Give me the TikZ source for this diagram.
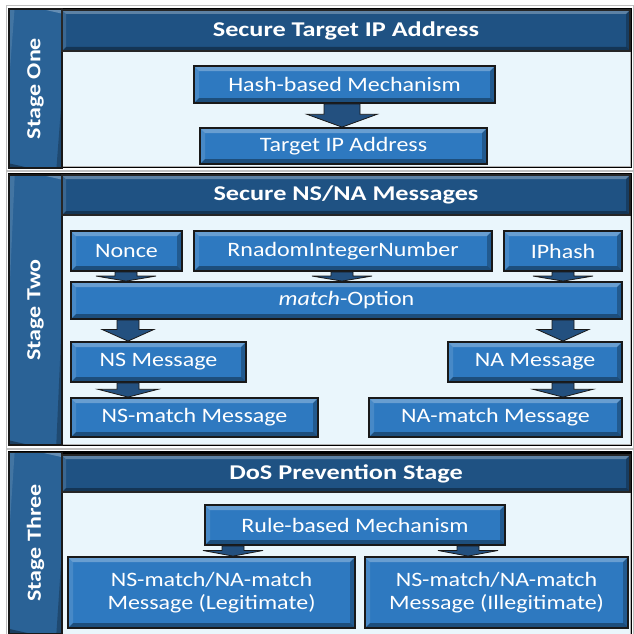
\documentclass[tikz,border=0pt]{standalone}
\usepackage{fontspec}
\setmainfont{Carlito}
\newfontfamily\boxfont{Carlito}[FakeStretch=1.17]
\newfontfamily\hdrfont{Carlito}[FakeStretch=1.25]
\newfontfamily\lblfont{Carlito}[FakeStretch=1.2]
\usetikzlibrary{calc}
\definecolor{boxc}{HTML}{2E79C0}
\definecolor{hdrc}{HTML}{1F5283}
\definecolor{lblc}{HTML}{2A6296}
\definecolor{contentc}{HTML}{EAF6FC}
\definecolor{arrowc}{HTML}{23507F}
\tikzset{
  bevel/.style={path picture={
    \fill[white,opacity=0.28] (path picture bounding box.north west) -- (path picture bounding box.north east)
      -- ++(-#1,-#1) -- ($(path picture bounding box.north west)+(#1,-#1)$) -- cycle;
    \fill[white,opacity=0.12] (path picture bounding box.north west) -- (path picture bounding box.south west)
      -- ++(#1,#1) -- ($(path picture bounding box.north west)+(#1,-#1)$) -- cycle;
    \fill[black,opacity=0.25] (path picture bounding box.north east) -- (path picture bounding box.south east)
      -- ++(-#1,#1) -- ($(path picture bounding box.north east)+(-#1,-#1)$) -- cycle;
    \fill[black,opacity=0.35] (path picture bounding box.south west) -- (path picture bounding box.south east)
      -- ++(-#1,#1) -- ($(path picture bounding box.south west)+(#1,#1)$) -- cycle;
  }},
  box/.style={draw=black!90, line width=1.8pt, fill=boxc, bevel=5pt,
    text=white, font=\boxfont\fontsize{20.5}{23}\selectfont, inner sep=0pt, align=center},
  header/.style={draw=black!85, line width=1.2pt, fill=hdrc, bevel=4pt,
    text=white, font=\hdrfont\bfseries\fontsize{21}{23}\selectfont, inner sep=0pt},
  stagelbl/.style={draw=black!90, line width=1.4pt, fill=lblc, bevel=6pt,
    text=white, font=\lblfont\bfseries\fontsize{20}{22}\selectfont, inner sep=0pt, rotate=90,
    minimum height=53pt},
  contentarea/.style={fill=contentc, draw=gray!60, line width=0.6pt},
  arrowstyle/.style={fill=arrowc, draw=black!90, line width=0.8pt, line join=miter}
}
\newcommand\blockarr[5]{%
  \filldraw[arrowstyle] let \p1=(#1.south), \p2=(#2.north) in
    ({#3pt-#4pt},\y1) -- ({#3pt-#4pt},{\y1+(\y2-\y1)*0.45}) --
    ({#3pt-#5pt},{\y1+(\y2-\y1)*0.45}) -- (#3pt,\y2) --
    ({#3pt+#5pt},{\y1+(\y2-\y1)*0.45}) -- ({#3pt+#4pt},{\y1+(\y2-\y1)*0.45}) --
    ({#3pt+#4pt},\y1) -- cycle;}
\begin{document}
\begin{tikzpicture}[x=1pt,y=-1pt]
\useasboundingbox (0,0) rectangle (633,634);
\fill[white] (0,0) rectangle (633,634);
% stage frames
\draw[gray!50, line width=1pt] (6,6) rectangle (633,170);
\draw[gray!50, line width=1pt] (6,171) rectangle (633,448);
\draw[gray!50, line width=1pt] (6,449) rectangle (633,640);
\fill[black] (8,8) rectangle (632,168);
\fill[black] (8,173) rectangle (632,446);
\fill[black] (8,451) rectangle (632,640);
% content areas
\draw[contentarea] (62,51) rectangle (630,166);
\draw[contentarea] (62,215) rectangle (630,444);
\draw[contentarea] (62,492) rectangle (630,634);
% stage labels
\node[stagelbl, minimum width=159pt] (s1) at (35.5,88.5) {Stage One};
\node[stagelbl, minimum width=270pt] (s2) at (35.5,310) {Stage Two};
\node[stagelbl, minimum width=181pt] (s3) at (35.5,543) {Stage Three};
% headers
\node[header, minimum width=568pt, minimum height=41pt] (h1) at (346,30.5) {Secure Target IP Address};
\node[header, minimum width=568pt, minimum height=40pt] (h2) at (346,195) {Secure NS/NA Messages};
\node[header, minimum width=568pt, minimum height=37pt] (h3) at (346,473.5) {DoS Prevention Stage};
% stage one
\node[box, minimum width=301pt, minimum height=37pt] (hash) at (344.5,84.5) {Hash-based Mechanism};
\node[box, minimum width=287pt, minimum height=36pt] (target) at (343.5,146) {Target IP Address};
% stage two
\node[box, minimum width=111pt, minimum height=40pt] (nonce) at (126.5,251) {Nonce};
\node[box, minimum width=298pt, minimum height=40pt] (rand) at (343,251) {RnadomIntegerNumber};
\node[box, minimum width=118pt, minimum height=40pt] (iph) at (563,251) {IPhash};
\node[box, minimum width=551pt, minimum height=37pt] (match) at (346.5,300.5) {\textit{match}-Option};
\node[box, minimum width=175pt, minimum height=40pt] (ns) at (158.5,362) {NS Message};
\node[box, minimum width=174pt, minimum height=40pt] (na) at (535,362) {NA Message};
\node[box, minimum width=247pt, minimum height=39pt] (nsm) at (194.5,417.5) {NS-match Message};
\node[box, minimum width=253pt, minimum height=39pt] (nam) at (495.5,417.5) {NA-match Message};
% stage three
\node[box, minimum width=300pt, minimum height=40pt] (rule) at (355,525) {Rule-based Mechanism};
\node[box, minimum width=287pt, minimum height=71pt] (leg) at (211.5,592.5) {NS-match/NA-match\\Message (Legitimate)};
\node[box, minimum width=263pt, minimum height=71pt] (ill) at (496.5,592.5) {NS-match/NA-match\\Message (Illegitimate)};
% arrows
\blockarr{hash}{target}{342}{18}{35}
\blockarr{nonce}{match}{126}{11}{30}
\blockarr{rand}{match}{342}{11}{30}
\blockarr{iph}{match}{563}{11}{30}
\blockarr{match}{ns}{128}{11}{26}
\blockarr{match}{na}{563}{11}{26}
\blockarr{ns}{nsm}{128}{11}{30}
\blockarr{na}{nam}{563}{11}{30}
\blockarr{rule}{leg}{233}{11}{30}
\blockarr{rule}{ill}{468}{11}{30}
\end{tikzpicture}
\end{document}
